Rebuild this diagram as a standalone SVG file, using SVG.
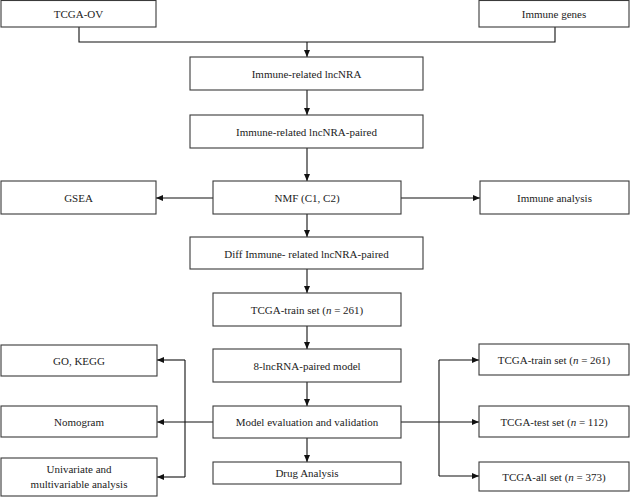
<svg xmlns="http://www.w3.org/2000/svg" width="630" height="497" viewBox="0 0 630 497">
<defs>
<marker id="ah" markerWidth="7" markerHeight="6" refX="7" refY="3" orient="auto" markerUnits="userSpaceOnUse">
<path d="M0,0 L7,3 L0,6 Z" fill="#111"/>
</marker>
</defs>
<style>
.box{fill:#fff;stroke:#3a3a3a;stroke-width:1.1}
.t{font-family:"Liberation Serif","Times New Roman",serif;font-size:11px;fill:#222;text-anchor:middle;dominant-baseline:central}
.c{fill:none;stroke:#111;stroke-width:1.1}
.a{marker-end:url(#ah)}
</style>
<rect width="630" height="497" fill="#fff"/>
<g id="connectors">
<path class="c" d="M79,27 V42 H555 V27"/>
<path class="c a" d="M307,42 V57"/>
<path class="c a" d="M307,90 V115"/>
<path class="c a" d="M307,148 V181"/>
<path class="c a" d="M213,198 H156"/>
<path class="c a" d="M401,198 H480"/>
<path class="c a" d="M307,214 V237"/>
<path class="c a" d="M307,269 V293"/>
<path class="c a" d="M307,326 V349"/>
<path class="c a" d="M307,382 V406"/>
<path class="c a" d="M307,438 V462"/>
<path class="c a" d="M213,422 H157"/>
<path class="c" d="M185,360 V477"/>
<path class="c a" d="M185,360 H157"/>
<path class="c a" d="M185,477 H157"/>
<path class="c a" d="M401,422 H479"/>
<path class="c" d="M439,360 V476"/>
<path class="c a" d="M439,360 H479"/>
<path class="c a" d="M439,476 H479"/>
</g>
<g id="tcga-ov"><rect class="box" x="1" y="0.5" width="155" height="26.5"/><text class="t" x="78.5" y="14">TCGA-OV</text></g>
<g id="immune-genes"><rect class="box" x="479" y="0.5" width="150" height="26.5"/><text class="t" x="554" y="14">Immune genes</text></g>
<g id="immune-lnc"><rect class="box" x="190" y="57" width="233" height="33"/><text class="t" x="306.5" y="74">Immune-related lncNRA</text></g>
<g id="immune-lnc-paired"><rect class="box" x="190" y="115" width="233" height="33"/><text class="t" x="306.5" y="132">Immune-related lncNRA-paired</text></g>
<g id="gsea"><rect class="box" x="1" y="181" width="155" height="33"/><text class="t" x="78.5" y="198">GSEA</text></g>
<g id="nmf"><rect class="box" x="213" y="181" width="188" height="33"/><text class="t" x="307" y="198">NMF (C1, C2)</text></g>
<g id="immune-analysis"><rect class="box" x="480" y="181" width="149" height="33"/><text class="t" x="554.5" y="198">Immune analysis</text></g>
<g id="diff"><rect class="box" x="190" y="237" width="233" height="32"/><text class="t" x="306.5" y="253.5">Diff Immune- related lncNRA-paired</text></g>
<g id="train"><rect class="box" x="213" y="293" width="188" height="33"/><text class="t" x="307" y="309.5">TCGA-train set (<tspan font-style="italic">n</tspan> = 261)</text></g>
<g id="model"><rect class="box" x="213" y="349" width="188" height="33"/><text class="t" x="307" y="365.5">8-lncRNA-paired model</text></g>
<g id="eval"><rect class="box" x="213" y="406" width="188" height="32"/><text class="t" x="307" y="422">Model evaluation and validation</text></g>
<g id="drug"><rect class="box" x="213" y="462" width="188" height="22"/><text class="t" x="307" y="473">Drug Analysis</text></g>
<g id="go-kegg"><rect class="box" x="1" y="345" width="156" height="31"/><text class="t" x="79" y="360.5">GO, KEGG</text></g>
<g id="nomogram"><rect class="box" x="1" y="406" width="156" height="31"/><text class="t" x="79" y="421.5">Nomogram</text></g>
<g id="univariate"><rect class="box" x="1" y="458" width="156" height="38"/><text class="t" x="79" y="468.5">Univariate and</text><text class="t" x="79" y="484">multivariable analysis</text></g>
<g id="r-train"><rect class="box" x="479" y="344" width="150" height="31"/><text class="t" x="554" y="359.5">TCGA-train set (<tspan font-style="italic">n</tspan> = 261)</text></g>
<g id="r-test"><rect class="box" x="479" y="406" width="150" height="31"/><text class="t" x="554" y="421.5">TCGA-test set (<tspan font-style="italic">n</tspan> = 112)</text></g>
<g id="r-all"><rect class="box" x="479" y="462" width="150" height="29"/><text class="t" x="554" y="476.5">TCGA-all set (<tspan font-style="italic">n</tspan> = 373)</text></g>
</svg>
